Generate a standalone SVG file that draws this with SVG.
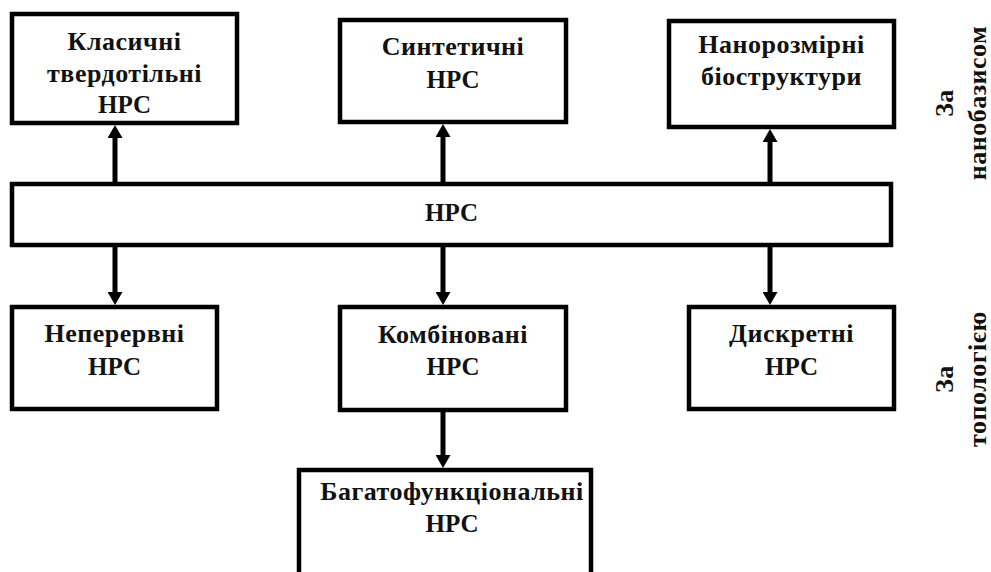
<svg xmlns="http://www.w3.org/2000/svg" width="991" height="572" viewBox="0 0 991 572">
<style>
.box{fill:#fff;stroke:#000;stroke-width:4.5}
.t{font-family:"Liberation Serif","Times New Roman",serif;font-weight:bold;font-size:26px;letter-spacing:0.5px;fill:#111;text-anchor:middle}
.h{font-size:25px;letter-spacing:0}
.c{stroke:#000;stroke-width:5;fill:none;marker-end:url(#ah)}
</style>
<defs>
<marker id="ah" markerUnits="userSpaceOnUse" markerWidth="15" markerHeight="15" refX="3" refY="7.5" orient="auto" viewBox="0 0 15 15">
<path d="M0,0 L13,7.5 L0,15 z" fill="#000"/>
</marker>
</defs>
<rect width="991" height="572" fill="#fff"/>
<g id="connectors">
<line class="c" x1="115" y1="182" x2="115" y2="135"/>
<line class="c" x1="443" y1="182" x2="443" y2="134"/>
<line class="c" x1="770" y1="182" x2="770" y2="139"/>
<line class="c" x1="115" y1="246" x2="115" y2="295"/>
<line class="c" x1="443" y1="246" x2="443" y2="295"/>
<line class="c" x1="770" y1="246" x2="770" y2="295"/>
<line class="c" x1="443" y1="411" x2="443" y2="458"/>
</g>
<g id="n-classic">
<rect class="box" x="12" y="14" width="225" height="109"/>
<text class="t" x="124.5" y="50">Класичні</text>
<text class="t" x="124.5" y="82">твердотільні</text>
<text class="t h" x="124.5" y="113">НРС</text>
</g>
<g id="n-synthetic">
<rect class="box" x="340" y="20" width="226" height="102"/>
<text class="t" x="453" y="55">Синтетичні</text>
<text class="t h" x="453" y="88">НРС</text>
</g>
<g id="n-bio">
<rect class="box" x="669" y="21" width="225" height="106"/>
<text class="t" x="781.5" y="53">Нанорозмірні</text>
<text class="t" x="781.5" y="85">біоструктури</text>
</g>
<g id="n-hrs">
<rect class="box" x="12" y="184" width="879" height="61"/>
<text class="t h" x="451.5" y="221">НРС</text>
</g>
<g id="n-continuous">
<rect class="box" x="12" y="307" width="205" height="102"/>
<text class="t" x="114.5" y="342">Неперервні</text>
<text class="t h" x="114.5" y="375">НРС</text>
</g>
<g id="n-combined">
<rect class="box" x="340" y="307" width="226" height="103"/>
<text class="t" x="453" y="343">Комбіновані</text>
<text class="t h" x="453" y="375">НРС</text>
</g>
<g id="n-discrete">
<rect class="box" x="689" y="307" width="205" height="102"/>
<text class="t" x="791.5" y="342">Дискретні</text>
<text class="t h" x="791.5" y="375">НРС</text>
</g>
<g id="n-multi">
<rect class="box" x="299" y="470" width="292" height="115"/>
<text class="t" x="452" y="500">Багатофункціональні</text>
<text class="t h" x="452" y="532">НРС</text>
</g>
<g id="label-nanobasis" transform="translate(0,103) rotate(-90)">
<text class="t" x="0" y="953">За</text>
<text class="t" x="0" y="986">нанобазисом</text>
</g>
<g id="label-topology" transform="translate(0,379) rotate(-90)">
<text class="t" x="0" y="953">За</text>
<text class="t" x="0" y="986">топологією</text>
</g>
</svg>
